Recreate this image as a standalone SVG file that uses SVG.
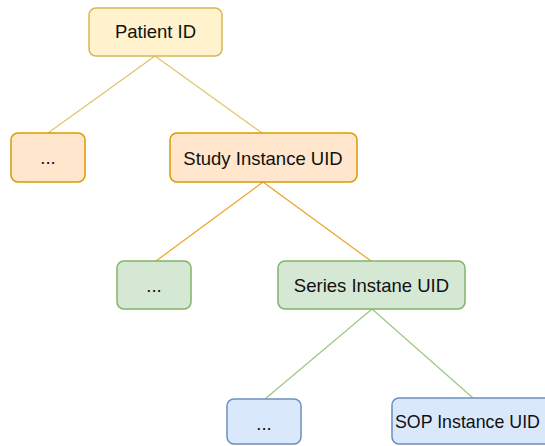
<svg xmlns="http://www.w3.org/2000/svg" width="545" height="446" viewBox="0 0 545 446">
<style>
.box{stroke-width:1.5}
.y{fill:#fff2cc;stroke:#d6b656}
.o{fill:#ffe6cc;stroke:#d79b00}
.g{fill:#d5e8d4;stroke:#82b366}
.b{fill:#dae8fc;stroke:#6c8ebf}
text{font-family:"Liberation Sans",Arial,Helvetica,sans-serif;font-size:18.5px;fill:#111111;text-anchor:middle}
.e{fill:none;stroke-width:1.2}
</style>
<rect width="545" height="446" fill="#ffffff"/>
<g id="connectors">
<line class="e" x1="155" y1="56" x2="48" y2="133" stroke="#e0c36a"/>
<line class="e" x1="155" y1="56" x2="262" y2="133" stroke="#e0c36a"/>
<line class="e" x1="263" y1="182" x2="156" y2="261" stroke="#e8a526"/>
<line class="e" x1="263" y1="182" x2="371" y2="261" stroke="#e8a526"/>
<line class="e" x1="372" y1="309" x2="265" y2="399" stroke="#9cc784"/>
<line class="e" x1="372" y1="309" x2="473" y2="398" stroke="#9cc784"/>
</g>
<g id="patient">
<rect class="box y" x="89" y="8" width="133" height="48" rx="7"/>
<text x="155.5" y="38">Patient ID</text>
</g>
<g id="etc1">
<rect class="box o" x="11" y="133" width="74" height="49" rx="7"/>
<text x="48" y="164">...</text>
</g>
<g id="study">
<rect class="box o" x="170" y="133" width="187" height="49" rx="7"/>
<text x="263" y="165">Study Instance UID</text>
</g>
<g id="etc2">
<rect class="box g" x="117" y="261" width="74" height="48" rx="7"/>
<text x="154" y="292">...</text>
</g>
<g id="series">
<rect class="box g" x="278" y="261" width="187" height="48" rx="7"/>
<text x="371.5" y="292">Series Instane UID</text>
</g>
<g id="etc3">
<rect class="box b" x="227" y="399" width="74" height="45" rx="7"/>
<text x="264" y="430">...</text>
</g>
<g id="sop">
<rect class="box b" x="392" y="398" width="187" height="46" rx="7"/>
<text x="395" y="428" style="text-anchor:start;font-size:17.8px">SOP Instance UID</text>
</g>
</svg>
